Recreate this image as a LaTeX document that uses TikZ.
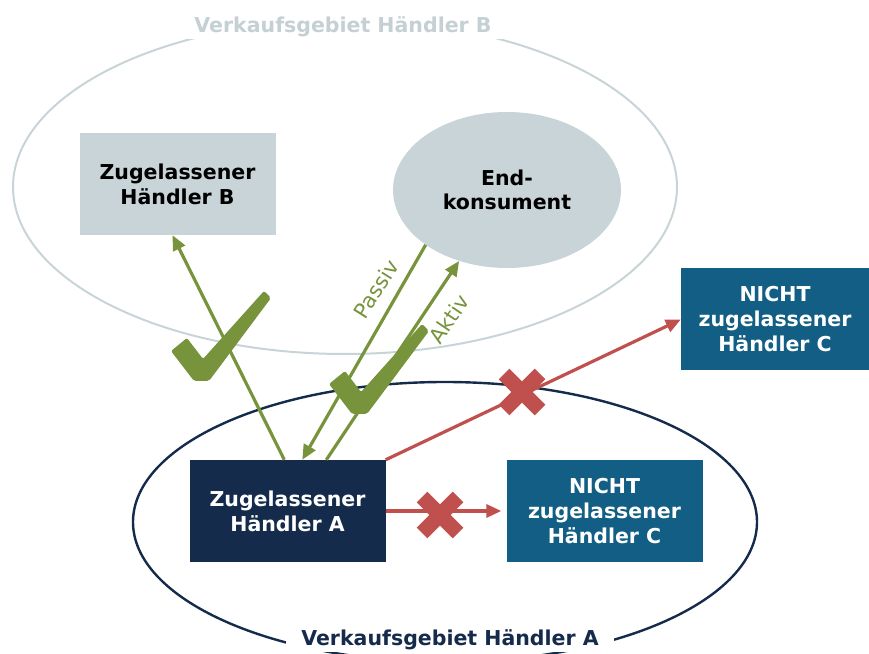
\documentclass[tikz,border=0pt]{standalone}
\usepackage{fontspec}
\setmainfont{DejaVu Sans}
\usepackage{tikz}
\usetikzlibrary{shapes.geometric,positioning}
\usetikzlibrary{calc,arrows.meta}
\definecolor{gruen}{RGB}{119,147,60}
\definecolor{rot}{RGB}{192,80,77}
\definecolor{navy}{RGB}{21,43,75}
\definecolor{petrol}{RGB}{19,94,132}
\definecolor{hellgrau}{RGB}{201,212,216}
\definecolor{titelgrau}{RGB}{197,208,212}
\tikzset{
	box/.style={rectangle,minimum width=196pt,minimum height=102pt,inner sep=0pt,align=center,font=\bfseries\fontsize{20.5}{25}\selectfont},
	gebiet/.style={ellipse,inner sep=0pt},
	titel/.style={fill=white,inner xsep=15pt,inner ysep=2pt,font=\bfseries\fontsize{20.5}{24}\selectfont},
	pfeilgruen/.style={draw=gruen,line width=3.2pt,-{Triangle[length=15pt,width=13pt]}},
	pfeilrot/.style={draw=rot,line width=3.2pt,-{Triangle[length=15pt,width=13pt]}},
	lbl/.style={text=gruen,font=\fontsize{21}{22}\selectfont},
	haken/.pic={\fill[gruen,rounded corners=2pt] (-31,24) -- (-15,37) -- (1,16) -- (62,84) -- (69,77) -- (7,-6) -- (-8,-6) -- cycle;},
	kreuz/.pic={\draw[rot,line width=15pt] (-18,-18) -- (18,18) (-18,18) -- (18,-18);}
}

\begin{document}
\begin{tikzpicture}[x=1pt,y=1pt]
	
	\useasboundingbox (0,0) rectangle (869,653);
	
	%Verkaufsgebiete
	\node[gebiet,draw=hellgrau,line width=2pt,minimum width=664pt,minimum height=334pt] (gebB) at (345,466) {};
	\node[gebiet,draw=navy,line width=2.4pt,minimum width=624pt,minimum height=280pt] (gebA) at (445,131) {};
	
	\node[titel,text=titelgrau] (titelB) at (343,626) {Verkaufsgebiet Händler B};
	\node[titel,text=navy] (titelA) at (450,13) {Verkaufsgebiet Händler A};
	
	%Haendler und Endkonsument
	\node[box,fill=hellgrau] (B) at (177.5,469) {Zugelassener\\Händler B};
	\node[gebiet,fill=hellgrau,minimum width=228pt,minimum height=156pt,align=center,font=\bfseries\fontsize{20.5}{24}\selectfont] (E) at (507,463) {End-\\konsument};
	\node[box,fill=petrol,text=white,minimum width=188pt] (C1) at (775,333.5) {NICHT\\zugelassener\\Händler C};
	\node[box,fill=navy,text=white] (A) at (287.5,142) {Zugelassener\\Händler A};
	\node[box,fill=petrol,text=white] (C2) at (604.5,142) {NICHT\\zugelassener\\Händler C};
	
	%Anschlusspunkte
	\coordinate (a1) at ($(A.north west)+(95,0)$);
	\coordinate (a2) at ($(A.north west)+(113,0)$);
	\coordinate (a3) at ($(A.north west)+(137,0)$);
	\coordinate (b1) at ($(B.south)+(-5,0)$);
	
	%Pfeile
	\draw[pfeilgruen] (a1) -- (b1);
	\draw[pfeilgruen] (E.214) -- (a2);
	\draw[pfeilgruen] (a3) -- (E.236);
	\draw[pfeilrot] (A.north east) -- (C1.west);
	\draw[pfeilrot,shorten >=5pt] (A.east) -- (C2.west);
	
	\node[lbl,rotate=58] (passiv) at (376,364) {Passiv};
	\node[lbl,rotate=56] (aktiv) at (449,334) {Aktiv};
	
	%Haken und Kreuze
	\pic at (202,278) {haken};
	\pic at (360,245) {haken};
	\pic at (522,261) {kreuz};
	\pic at (440,138) {kreuz};
	
\end{tikzpicture}
\end{document}
